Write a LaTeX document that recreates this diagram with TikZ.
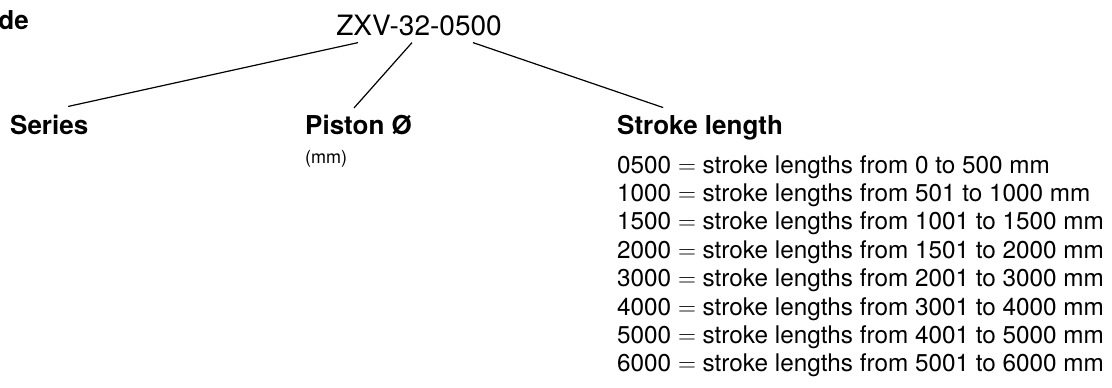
\documentclass[tikz,border=0pt]{standalone}
\usepackage{fontspec}
\setmainfont{TeX Gyre Heros}
\usetikzlibrary{positioning}

\begin{document}
\begin{tikzpicture}[x=1pt,y=-1pt,inner sep=0pt,
  code/.style={anchor=base,font=\fontsize{28}{32}\selectfont},
  head/.style={anchor=base west,font=\fontsize{26}{30}\selectfont\bfseries},
  item/.style={anchor=base west,font=\fontsize{24.3}{28}\selectfont}]
  \useasboundingbox (0,0) rectangle (1112,388);

  \node[head,anchor=base east] (T) at (29,29)  {de};
  \node[code]                  (Z) at (419,35) {ZXV-32-0500};
  \node[head]                  (S) at (10,134)  {Series};
  \node[head]                  (P) at (305,134) {Piston Ø};
  \node[head]                  (L) at (617,134) {Stroke length};
  \node[anchor=base west,font=\fontsize{18}{20}\selectfont]
                               (M) [below=29pt of P.base west,anchor=base west] {(mm)};

  \foreach \nn/\lo/\hi [count=\i from 0] in {0500/0/500,1000/501/1000,1500/1001/1500,
      2000/1501/2000,3000/2001/3000,4000/3001/4000,5000/4001/5000,6000/5001/6000}
    \node[item] (s\i) at (617,{173+28.4*\i}) {\nn{} $=$ stroke lengths from \lo{} to \hi{} mm};

\tikzset{leader/.style={line width=1.2pt}}
\draw[leader] ([xshift=-61pt,yshift=-7pt]Z.south) -- ([xshift=19pt,yshift=8pt]S.north);
\draw[leader] ([xshift=-7pt,yshift=-7pt]Z.south)  -- ([xshift=-4.5pt,yshift=6.5pt]P.north);
\draw[leader] ([xshift=54pt,yshift=-7pt]Z.south)  -- ([xshift=-37pt,yshift=7pt]L.north);

\end{tikzpicture}
\end{document}
